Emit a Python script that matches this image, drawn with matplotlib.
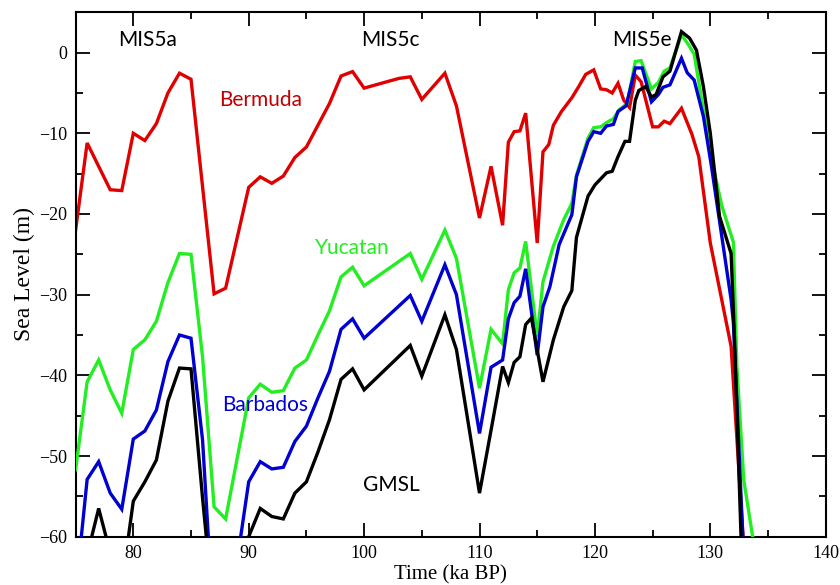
import matplotlib
matplotlib.use("Agg")
import matplotlib.pyplot as plt
from matplotlib.ticker import MultipleLocator

# ---- data (ka BP, sea level m) ----
bermuda_x = [75, 76, 78, 79, 80, 81, 82, 83, 84, 85, 87, 88, 90, 91, 92, 93, 94, 95, 96, 97, 98, 99,
             100, 103, 104, 105, 107, 108, 110, 111, 112, 112.5, 113, 113.5, 114, 115, 115.5, 116,
             116.4, 117.1, 118, 118.6, 119.2, 119.9, 120.5, 121, 121.5, 122, 122.5, 123, 123.5, 124,
             125, 125.5, 126, 126.5, 127.5, 128.4, 129, 130, 131.8, 133.1]
bermuda_y = [-22, -11.2, -17.0, -17.1, -10.0, -10.9, -8.8, -5.0, -2.55, -3.3, -29.9, -29.2, -16.7,
             -15.4, -16.2, -15.3, -13.0, -11.7, -9.0, -6.3, -2.9, -2.35, -4.4, -3.2, -3.0, -5.8,
             -2.55, -6.6, -20.5, -14.1, -21.4, -11.1, -9.8, -9.7, -7.5, -23.6, -12.3, -11.4, -9.0,
             -7.3, -5.6, -4.2, -2.7, -2.14, -4.5, -4.6, -5.0, -3.8, -5.9, -6.8, -2.8, -3.6, -9.2,
             -9.2, -8.5, -8.8, -6.9, -10.1, -12.9, -23.6, -36.4, -66]

yucatan_x = [75, 76, 77, 78, 79, 80, 81, 82, 83, 84, 85, 86, 87, 88, 90, 91, 92, 93, 94, 95, 96, 97,
             98, 99, 100, 104, 105, 107, 108, 110, 111, 112, 112.5, 113, 113.5, 114, 115, 115.5,
             116.4, 117.3, 118, 118.4, 119.4, 119.9, 120.5, 121.2, 121.6, 122.1, 122.8, 123.5, 124,
             124.9, 125.5, 126, 126.5, 127.5, 128.1, 128.6, 129.4, 130.3, 131, 132, 132.3, 132.9, 134]
yucatan_y = [-51.7, -40.8, -38.1, -41.8, -44.7, -36.8, -35.6, -33.3, -28.5, -24.9, -25.0, -37.7,
             -56.3, -57.8, -42.8, -41.1, -42.1, -41.9, -39.1, -38.1, -35.0, -32.0, -27.8, -26.6,
             -28.9, -24.9, -28.1, -22.0, -25.5, -41.6, -34.3, -36.1, -29.4, -27.3, -26.7, -23.4,
             -35.2, -28.4, -24.0, -20.7, -18.7, -15.2, -10.6, -9.3, -9.2, -8.5, -8.2, -7.1, -6.3,
             -1.1, -1.0, -4.5, -3.7, -2.3, -1.9, 2.2, 1.0, -0.2, -7.1, -14.5, -19.0, -23.5, -38.9,
             -53.0, -63]

barbados_x = [75, 76, 77, 78, 79, 80, 81, 82, 83, 84, 85, 86, 87, 89, 90, 91, 92, 93, 94, 95, 96, 97,
              98, 99, 100, 104, 105, 107, 108, 110, 111, 112, 112.5, 113, 113.5, 114, 115, 115.5,
              116.1, 116.9, 118, 118.4, 119.4, 119.9, 120.5, 121, 121.6, 122, 122.7, 123.5, 124.1,
              124.9, 125.5, 125.9, 126.5, 127.5, 128, 128.6, 129.4, 130.1, 131.8, 132, 133]
barbados_y = [-67, -52.9, -50.7, -54.6, -56.6, -47.9, -46.9, -44.3, -38.3, -35.0, -35.4, -48.0,
              -72, -63, -53.2, -50.7, -51.6, -51.4, -48.2, -46.3, -42.8, -39.5, -34.3, -33.0, -35.4,
              -30.1, -33.3, -26.3, -30.0, -47.2, -39.0, -38.1, -33.0, -31.0, -30.2, -26.8, -37.5,
              -31.5, -29.0, -23.8, -20.1, -15.4, -11.0, -9.8, -10.0, -9.1, -8.9, -7.3, -6.6, -1.9,
              -1.9, -6.1, -5.2, -4.3, -4.0, -0.7, -2.5, -3.4, -7.9, -14.1, -30.6, -33.5, -66]

gmsl_x = [75, 76, 77, 78, 79, 80, 81, 82, 83, 84, 85, 86, 87, 89, 90, 91, 92, 93, 94, 95, 96, 97,
          98, 99, 100, 104, 105, 107, 108, 110, 111, 112, 112.5, 113, 113.5, 114, 114.5, 115.5,
          116.4, 117.3, 118, 118.4, 119.4, 120, 121, 121.5, 122, 122.6, 123, 123.5, 123.8, 124.4,
          124.9, 125.3, 125.9, 126.5, 127.5, 128.2, 128.8, 129.4, 130, 130.8, 131.8, 132.1, 132.8]
gmsl_y = [-66, -62.3, -56.5, -62, -66, -55.6, -53.2, -50.5, -43.2, -39.1, -39.2, -55.2, -70, -63.5,
          -60, -56.5, -57.5, -57.8, -54.6, -53.2, -49.5, -45.5, -40.5, -39.2, -41.8, -36.3, -40.1,
          -32.5, -36.8, -54.6, -46.8, -38.9, -40.9, -38.4, -37.7, -33.7, -32.9, -40.8, -35.6,
          -31.5, -29.5, -22.9, -17.8, -16.4, -14.9, -14.7, -12.9, -11.0, -11.0, -5.9, -4.7, -4.2,
          -5.5, -5.2, -3.0, -2.3, 2.6, 1.8, 0.3, -4.2, -10.0, -20.3, -24.9, -35.6, -66]

series_names = ["Bermuda", "Yucatan", "Barbados", "GMSL"]
series_colors = ["#e00000", "#22ee22", "#0000d0", "#000000"]
label_colors = ["#c00000", "#22ee22", "#0000d0", "#000000"]
mis_labels = ["MIS5a", "MIS5c", "MIS5e"]

fig = plt.figure(figsize=(8.4, 5.85), dpi=100)
ax = fig.add_axes([0.090, 0.0826, 0.893, 0.8964])

xs = [bermuda_x, yucatan_x, barbados_x, gmsl_x]
ys = [bermuda_y, yucatan_y, barbados_y, gmsl_y]
order = [3, 0, 2, 1]
for i in order:
    ax.plot(xs[i], ys[i], color=series_colors[i], lw=2.4, solid_joinstyle="miter", zorder=2 + i)

ax.set_xlim(75, 140)
ax.set_ylim(-60, 5)
ax.xaxis.set_major_locator(MultipleLocator(10))
ax.xaxis.set_minor_locator(MultipleLocator(5))
ax.yaxis.set_major_locator(MultipleLocator(10))
ax.yaxis.set_minor_locator(MultipleLocator(5))
ax.tick_params(which="both", direction="in", top=True, right=True, width=1.3)
ax.tick_params(which="major", length=10, labelsize=13, pad=6)
ax.tick_params(which="minor", length=5)
for sp in ax.spines.values():
    sp.set_linewidth(1.5)

serif = "Liberation Serif"
for lab in ax.get_xticklabels() + ax.get_yticklabels():
    lab.set_fontfamily(serif)
ax.set_xticks([80, 90, 100, 110, 120, 130, 140])
ax.set_xticklabels(["80", "90", "100", "110", "120", "130", "140"], fontfamily=serif, fontsize=13)
ax.set_xlabel("Time (ka BP)", fontfamily=serif, fontsize=15, labelpad=2)
ax.set_ylabel("Sea Level (m)", fontfamily=serif, fontsize=17, labelpad=3)

sans = "Lato"
ax.text(81.2, 1.6, mis_labels[0], fontfamily=sans, fontsize=15, ha="center", va="center")
ax.text(102.3, 1.6, mis_labels[1], fontfamily=sans, fontsize=15, ha="center", va="center")
ax.text(124.1, 1.6, mis_labels[2], fontfamily=sans, fontsize=15, ha="center", va="center", zorder=1)
ax.text(91.0, -5.9, series_names[0], color=label_colors[0], fontfamily=sans, fontsize=15, ha="center", va="center")
ax.text(99.0, -24.2, series_names[1], color=label_colors[1], fontfamily=sans, fontsize=15, ha="center", va="center")
ax.text(91.45, -43.7, series_names[2], color=label_colors[2], fontfamily=sans, fontsize=15, ha="center", va="center")
ax.text(102.4, -53.6, series_names[3], color=label_colors[3], fontfamily=sans, fontsize=15, ha="center", va="center")

fig.savefig("out.png", dpi=100)
